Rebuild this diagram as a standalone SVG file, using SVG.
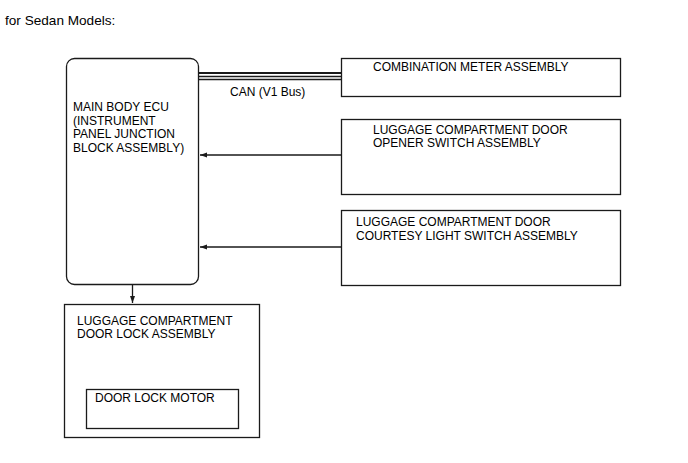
<svg xmlns="http://www.w3.org/2000/svg" width="688" height="463" viewBox="0 0 688 463">
<style>
text{font-family:"Liberation Sans",Arial,sans-serif;font-size:12px;fill:#000}
.box{fill:#fff;stroke:#1a1a1a;stroke-width:1.3}
.ln{stroke:#1a1a1a;stroke-width:1.3;fill:none}
</style>
<defs>
<marker id="ah" markerWidth="8" markerHeight="6" refX="7" refY="3" orient="auto" markerUnits="userSpaceOnUse">
<path d="M0,0.5 L7,3 L0,5.5 Z" fill="#1a1a1a"/>
</marker>
</defs>
<rect width="688" height="463" fill="#fff"/>
<text x="5" y="24.5" style="font-size:13.6px">for Sedan Models:</text>
<g id="connectors">
<line class="ln" x1="199" y1="73" x2="341" y2="73" style="stroke-width:2"/>
<line class="ln" x1="199" y1="76.5" x2="341" y2="76.5"/>
<line class="ln" x1="199" y1="79.5" x2="341" y2="79.5"/>
<line class="ln" x1="341" y1="155" x2="200" y2="155" marker-end="url(#ah)"/>
<line class="ln" x1="341" y1="247" x2="200" y2="247" marker-end="url(#ah)"/>
<line class="ln" x1="132.5" y1="285" x2="132.5" y2="303" marker-end="url(#ah)"/>
<text x="230" y="96">CAN (V1 Bus)</text>
</g>
<g id="ecu">
<rect class="box" x="66.5" y="58.5" width="132" height="226" rx="8"/>
<text x="73" y="111">MAIN BODY ECU</text>
<text x="73" y="124.5">(INSTRUMENT</text>
<text x="73" y="138">PANEL JUNCTION</text>
<text x="73" y="151.5">BLOCK ASSEMBLY)</text>
</g>
<g id="meter">
<rect class="box" x="341.5" y="58.5" width="279" height="38"/>
<text x="373" y="71">COMBINATION METER ASSEMBLY</text>
</g>
<g id="opener">
<rect class="box" x="341.5" y="119.5" width="279" height="75"/>
<text x="373" y="134">LUGGAGE COMPARTMENT DOOR</text>
<text x="373" y="147">OPENER SWITCH ASSEMBLY</text>
</g>
<g id="courtesy">
<rect class="box" x="341.5" y="210.5" width="279" height="75"/>
<text x="356" y="226">LUGGAGE COMPARTMENT DOOR</text>
<text x="356" y="240">COURTESY LIGHT SWITCH ASSEMBLY</text>
</g>
<g id="lock">
<rect class="box" x="64.5" y="304.5" width="195" height="133"/>
<text x="77" y="325">LUGGAGE COMPARTMENT</text>
<text x="77" y="338">DOOR LOCK ASSEMBLY</text>
</g>
<g id="motor">
<rect class="box" x="86.5" y="389.5" width="152" height="39"/>
<text x="95" y="402">DOOR LOCK MOTOR</text>
</g>
</svg>
